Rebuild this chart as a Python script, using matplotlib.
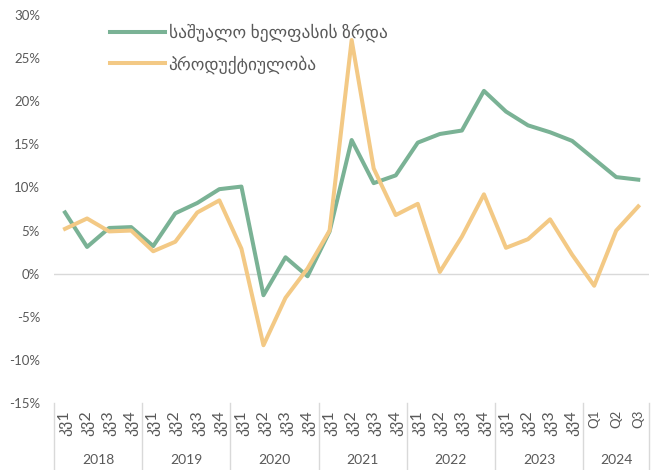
import numpy as np
import matplotlib
matplotlib.use("Agg")
import matplotlib.pyplot as plt
import matplotlib.transforms as mtransforms

plt.rcParams['font.family'] = ['Lato', 'DejaVu Sans']

years = ['2018', '2019', '2020', '2021', '2022', '2023', '2024']
quarters = ['კვ1', 'კვ2', 'კვ3', 'კვ4'] * 6 + ['Q1', 'Q2', 'Q3']

wage_growth = [7.1, 3.1, 5.3, 5.4, 3.2, 7.0, 8.2, 9.8, 10.1, -2.5,
               1.9, -0.3, 4.9, 15.5, 10.5, 11.4, 15.2, 16.2, 16.6, 21.2,
               18.8, 17.2, 16.4, 15.4, 13.3, 11.2, 10.9]
productivity = [5.2, 6.4, 4.9, 5.0, 2.6, 3.7, 7.1, 8.5, 2.9, -8.3,
                -2.8, 0.6, 5.0, 27.1, 12.2, 6.8, 8.1, 0.2, 4.3, 9.2,
                3.0, 4.0, 6.3, 2.2, -1.4, 5.0, 7.8]

series_names = ['საშუალო ხელფასის ზრდა', 'პროდუქტიულობა']

green = '#7AB295'
orange = '#F3C985'
grey_text = '#595959'
grid = '#D9D9D9'

fig = plt.figure(figsize=(6.56, 4.70), dpi=100)
ax = fig.add_axes([54 / 656, 67 / 470, 595.3 / 656, 388 / 470])

x = np.arange(len(quarters))
ax.plot(x, wage_growth, color=green, lw=2.9, label=series_names[0], solid_joinstyle='round')
ax.plot(x, productivity, color=orange, lw=2.9, label=series_names[1], solid_joinstyle='round')

ax.axhline(0, color=grid, lw=1.0, zorder=0)

ax.set_xlim(-0.5, len(quarters) - 0.5)
ax.set_ylim(-15, 30)
ax.set_yticks(np.arange(-15, 31, 5))
ax.set_yticklabels(['{}%'.format(v) for v in range(-15, 31, 5)])
ax.tick_params(axis='y', length=0, pad=10, labelsize=9.5, labelcolor=grey_text)

ax.set_xticks(x)
ax.set_xticklabels(quarters, rotation=90)
ax.tick_params(axis='x', length=0, pad=5, labelsize=9.5, labelcolor=grey_text)
# georgian glyphs come from DejaVu and look small, bump them up
for lbl in ax.get_xticklabels():
    if not lbl.get_text().startswith('Q'):
        lbl.set_fontsize(11.5)

for s in ax.spines.values():
    s.set_visible(False)

# year group labels and separators below the axis
trans = mtransforms.blended_transform_factory(ax.transData, ax.transAxes)
sep_bottom = -67 / 388
for i in range(len(years) + 1):
    xs = i * 4 - 0.5
    if xs > len(quarters) - 0.5:
        xs = len(quarters) - 0.5
    ax.plot([xs, xs], [0, sep_bottom], color=grid, lw=1.0, transform=trans, clip_on=False)
for i, yr in enumerate(years):
    n = min(4, len(quarters) - i * 4)
    xc = i * 4 + (n - 1) / 2
    ax.text(xc, -57 / 388, yr, transform=trans, ha='center', va='center',
            fontsize=10, color=grey_text)

leg = ax.legend(loc='upper left', bbox_to_anchor=(94 / 656, 1 - 8 / 470),
                bbox_transform=fig.transFigure, frameon=False, fontsize=12.5,
                handlelength=3.2, handletextpad=0.2, labelspacing=0.75)
for t in leg.get_texts():
    t.set_color(grey_text)

fig.savefig('out.png', dpi=100)
